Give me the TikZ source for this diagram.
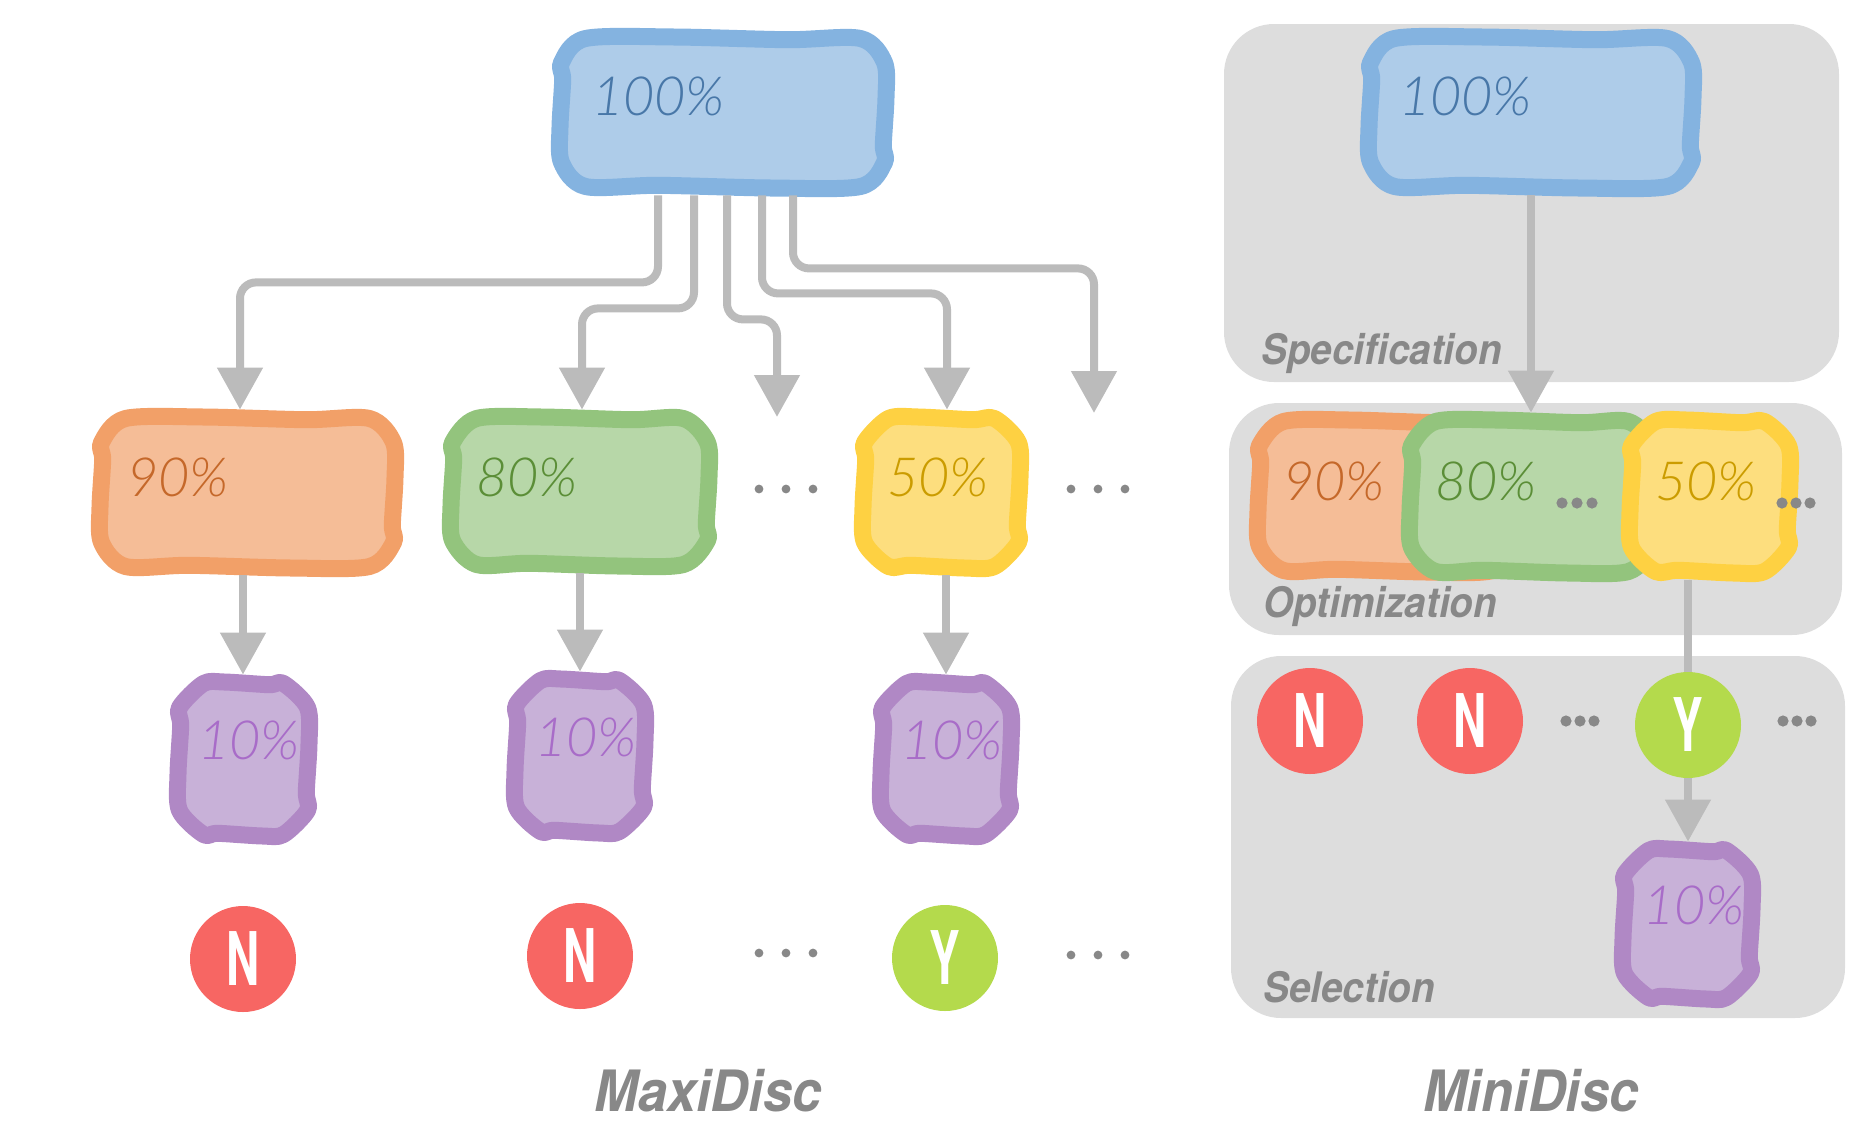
\documentclass[tikz,border=0pt]{standalone}
\usepackage{fontspec}
\usetikzlibrary{arrows.meta,calc,fit}
\newfontfamily\pctfont{Lato Light Italic}
\newfontfamily\lblfont{TeX Gyre Heros}[FakeStretch=0.92]
\newfontfamily\ynfont{TeX Gyre Heros}[FakeStretch=0.62]

\definecolor{blueline}{HTML}{84B3E0}\definecolor{bluefill}{HTML}{AECCE9}\definecolor{bluetext}{HTML}{4877A8}
\definecolor{orline}{HTML}{F2A068}\definecolor{orfill}{HTML}{F5BD97}\definecolor{ortext}{HTML}{C5682A}
\definecolor{grline}{HTML}{93C47D}\definecolor{grfill}{HTML}{B7D7A8}\definecolor{grtext}{HTML}{5B8E37}
\definecolor{yeline}{HTML}{FED142}\definecolor{yefill}{HTML}{FDDE7E}\definecolor{yetext}{HTML}{CB9C00}
\definecolor{puline}{HTML}{B088C5}\definecolor{pufill}{HTML}{C8B1D8}\definecolor{putext}{HTML}{A86CC8}
\definecolor{nored}{HTML}{F76663}\definecolor{yesgreen}{HTML}{B4DA4C}
\definecolor{conngray}{HTML}{BBBBBB}\definecolor{panelgray}{HTML}{DDDDDD}\definecolor{labelgray}{HTML}{888888}

% hand-drawn box: #1 name, (#2,#3) top left, (#4,#5) bottom right in px, #6 style
\newcommand\wbox[6]{%
  \coordinate (#1-nw) at (#2,#3);
  \coordinate (#1-se) at (#4,#5);
  \node[fit=(#1-nw)(#1-se), inner sep=0pt] (#1) {};
  \pgfmathsetmacro\wa{#2+8.5}\pgfmathsetmacro\wb{#3+8.5}%
  \pgfmathsetmacro\wc{#4-8.5}\pgfmathsetmacro\we{#5-8.5}%
  \pgfmathsetmacro\wW{\wc-\wa}\pgfmathsetmacro\wH{\we-\wb}%
  \filldraw[#6, line width=8.5pt, line join=round] plot[smooth cycle, tension=0.5] coordinates {
    (\wa+24,\wb) (\wa+0.35*\wW,\wb-1.5) (\wa+0.7*\wW,\wb+1.2) (\wc-24,\wb)
    (\wc,\wb+24) (\wc+1.5,\wb+0.4*\wH) (\wc-1.2,\wb+0.72*\wH) (\wc,\we-24)
    (\wc-24,\we) (\wa+0.65*\wW,\we+1.5) (\wa+0.3*\wW,\we-1.2) (\wa+24,\we)
    (\wa,\we-24) (\wa-1.5,\wb+0.6*\wH) (\wa+1.2,\wb+0.28*\wH) (\wa,\wb+24)};
}

\tikzset{
  bluebox/.style={fill=bluefill, draw=blueline},
  orbox/.style={fill=orfill, draw=orline},
  grbox/.style={fill=grfill, draw=grline},
  yebox/.style={fill=yefill, draw=yeline},
  pubox/.style={fill=pufill, draw=puline},
  pct/.style={font=\pctfont\fontsize{27}{27}\selectfont, inner sep=0pt, anchor=base west},
  lbl/.style={font=\lblfont\bfseries\itshape\fontsize{21}{21}\selectfont, text=labelgray, inner sep=0pt, anchor=base west},
  ttl/.style={font=\lblfont\bfseries\itshape\fontsize{28.5}{28.5}\selectfont, text=labelgray, inner sep=0pt, anchor=base},
  yn/.style={circle, inner sep=0pt, minimum size=53pt, text=white, font=\ynfont\bfseries\fontsize{37}{37}\selectfont},
  panel/.style={fill=panelgray, rounded corners=25pt, inner sep=0pt},
  conn/.style={draw=conngray, line width=4pt, rounded corners=8pt},
  tip/.style={-{Triangle[width=22pt,length=21pt]}},
  dot/.style={fill=labelgray},
}

\begin{document}
\begin{tikzpicture}[x=0.5pt, y=-0.5pt]
\path[use as bounding box] (0,0) rectangle (1860,1121);

% ---------------- MaxiDisc ----------------
\wbox{b100L}{553}{30}{893}{195}{bluebox}
\node[pct, text=bluetext] (t100L) at ($(b100L.north west)+(39,86)$) {100\%};

\wbox{o90L}{93}{410}{402}{575}{orbox}
\node[pct, text=ortext] (t90L) at ($(o90L.north west)+(34,87)$) {90\%};
\wbox{g80L}{444}{410}{716}{573}{grbox}
\node[pct, text=grtext] (t80L) at ($(g80L.north west)+(32,87)$) {80\%};
\wbox{y50L}{856}{410}{1027}{575}{yebox}
\node[pct, text=yetext] (t50L) at ($(y50L.north west)+(31,87)$) {50\%};

\wbox{p1}{171}{675}{316}{843}{pubox}
\node[pct, text=putext] (tp1) at ($(p1.north west)+(27,85)$) {10\%};
\wbox{p2}{508}{672}{652}{840}{pubox}
\node[pct, text=putext] (tp2) at ($(p2.north west)+(27,85)$) {10\%};
\wbox{p3}{874}{675}{1018}{843}{pubox}
\node[pct, text=putext] (tp3) at ($(p3.north west)+(27,85)$) {10\%};

% fan-out from the full set
\coordinate (cx1) at (658,0);\coordinate (cx2) at (694,0);\coordinate (cx3) at (727,0);
\coordinate (cx4) at (762,0);\coordinate (cx5) at (793,0);
\coordinate (ax1) at (240,0);\coordinate (ax2) at (582,0);\coordinate (ax4) at (947,0);
\coordinate (e3) at (777,417);\coordinate (e5) at (1094,413);
\draw[conn,tip] (b100L.south -| cx1) -- ++(0,87) -| (o90L.north -| ax1);
\draw[conn,tip] (b100L.south -| cx2) -- ++(0,113) -| (g80L.north -| ax2);
\draw[conn,tip] (b100L.south -| cx3) -- ++(0,124) -| (e3);
\draw[conn,tip] (b100L.south -| cx4) -- ++(0,98) -| (y50L.north -| ax4);
\draw[conn,tip] (b100L.south -| cx5) -- ++(0,73) -| (e5);

\coordinate (v1) at (243,0);\coordinate (v2) at (580,0);\coordinate (v3) at (946,0);
\draw[conn,tip] (o90L.south -| v1) -- (p1.north -| v1);
\draw[conn,tip] (g80L.south -| v2) -- (p2.north -| v2);
\draw[conn,tip] (y50L.south -| v3) -- (p3.north -| v3);

\foreach \x in {759,786,813}{\fill[dot] (\x,489) circle[radius=2.2pt];}
\foreach \x in {1071,1098,1125}{\fill[dot] (\x,489) circle[radius=2.2pt];}
\foreach \x in {759,786,813}{\fill[dot] (\x,953) circle[radius=2.2pt];}
\foreach \x in {1071,1098,1125}{\fill[dot] (\x,955) circle[radius=2.2pt];}

\node[yn, fill=nored] (n1) at (243,959) {N};
\node[yn, fill=nored] (n2) at (580,956) {N};
\node[yn, fill=yesgreen] (y1) at (945,958) {Y};

\node[ttl] (maxi) at (708,1111) {MaxiDisc};

% ---------------- MiniDisc ----------------
\coordinate (sp-a) at (1224,24);\coordinate (sp-b) at (1839,382);
\node[panel, fit=(sp-a)(sp-b)] (spec) {};
\coordinate (op-a) at (1229,403);\coordinate (op-b) at (1842,635);
\node[panel, fit=(op-a)(op-b)] (opt) {};
\coordinate (se-a) at (1231,656);\coordinate (se-b) at (1845,1018);
\node[panel, fit=(se-a)(se-b)] (sel) {};

\node[lbl] (specl) at (1261,364) {Specification};
\node[lbl] (optl) at (1263,617) {Optimization};
\node[lbl] (sell) at (1263,1002) {Selection};

\wbox{b100R}{1362}{30}{1700}{195}{bluebox}
\node[pct, text=bluetext] (t100R) at ($(b100R.north west)+(37,86)$) {100\%};

\wbox{o90R}{1251}{413}{1525}{579}{orbox}
\node[pct, text=ortext] (t90R) at ($(o90R.north west)+(32,88)$) {90\%};
\wbox{g80R}{1403}{413}{1661}{580}{grbox}
\node[pct, text=grtext] (t80R) at ($(g80R.north west)+(32,88)$) {80\%};
\wbox{y50R}{1623}{413}{1797}{580}{yebox}
\node[pct, text=yetext] (t50R) at ($(y50R.north west)+(32,88)$) {50\%};

\foreach \x in {1562,1577,1592}{\fill[dot] (\x,503) circle[radius=2.8pt];}
\foreach \x in {1782,1796,1810}{\fill[dot] (\x,503) circle[radius=2.8pt];}

\wbox{p4}{1616}{842}{1759}{1006}{pubox}
\node[pct, text=putext] (tp4) at ($(p4.north west)+(27,83)$) {10\%};

\node[yn, fill=nored] (n3) at (1310,721) {N};
\node[yn, fill=nored] (n4) at (1470,721) {N};
\coordinate (yRpos) at (1688,725);
\draw[conn] (y50R.south -| yRpos) -- (yRpos);
\node[yn, fill=yesgreen] (y2) at (yRpos) {Y};
\draw[conn,tip] (y2.south) -- (p4.north -| y2.south);
\draw[conn,tip] (b100R.south) -- (g80R.north -| b100R.south);

\foreach \x in {1566,1580,1594}{\fill[dot] (\x,721) circle[radius=2.8pt];}
\foreach \x in {1783,1797,1811}{\fill[dot] (\x,721) circle[radius=2.8pt];}

\node[ttl] (mini) at (1531,1111) {MiniDisc};
\end{tikzpicture}
\end{document}
